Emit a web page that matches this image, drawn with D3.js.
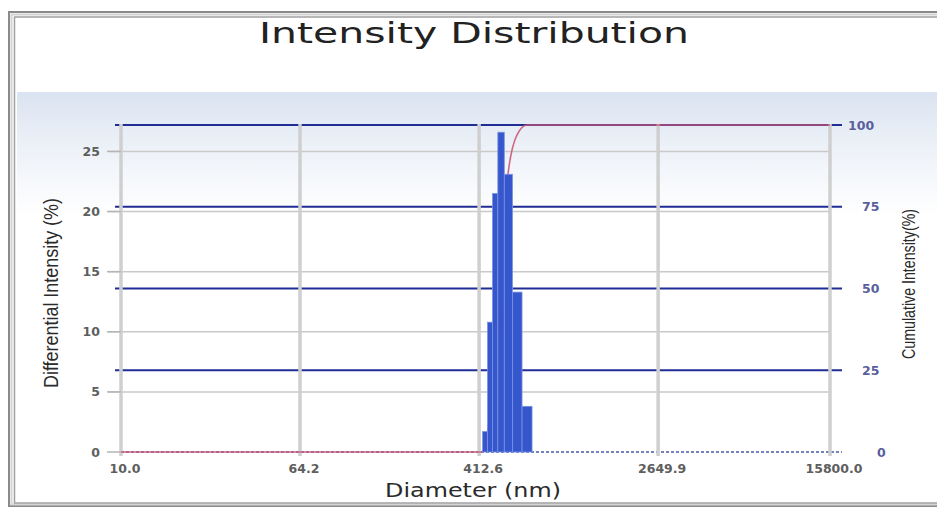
<!DOCTYPE html>
<html>
<head>
<meta charset="utf-8">
<script src="https://cdn.jsdelivr.net/npm/d3@7"></script>
<style>
  html, body { margin: 0; padding: 0; background: #fff; }
  svg { display: block; }
</style>
</head>
<body>
<svg id="chart" width="937" height="508"></svg>
<script>
// ---- data ----
const diameters = [439, 462, 487, 516, 557, 612, 679];          // nm, bin centres
const intensity = [1.7, 10.8, 21.5, 26.6, 23.1, 13.3, 3.8];      // differential %
const cumDiameters = [10, 420, 439, 462, 487, 516, 557, 612, 679, 15800];
const cumulative = [0, 0, 1.7, 12.5, 26, 60, 85, 97, 100, 100];  // cumulative %
const xTicks = [10.0, 64.2, 412.6, 2649.9, 15800.0];
const leftTicks = [0, 5, 10, 15, 20, 25];
const rightTicks = [0, 25, 50, 75, 100];

const svg = d3.select("#chart");
const W = 937, H = 508;

// frame + background
const defs = svg.append("defs");
const grad = defs.append("linearGradient").attr("id", "bg").attr("x1", 0).attr("y1", 0).attr("x2", 0).attr("y2", 1);
grad.append("stop").attr("offset", "0%").attr("stop-color", "#dae3f1");
grad.append("stop").attr("offset", "12%").attr("stop-color", "#ebf0f7");
grad.append("stop").attr("offset", "30%").attr("stop-color", "#ffffff");
svg.append("rect").attr("x", 17).attr("y", 92).attr("width", W - 17).attr("height", 411).attr("fill", "url(#bg)");

svg.append("rect").attr("x", 9).attr("y", 12).attr("width", W + 20).attr("height", 494)
  .attr("fill", "none").attr("stroke", "#8a8a8a").attr("stroke-width", 2);
svg.append("rect").attr("x", 11.5).attr("y", 14.5).attr("width", W + 20).attr("height", 490)
  .attr("fill", "none").attr("stroke", "#d4d4d4").attr("stroke-width", 2);
svg.append("rect").attr("x", 14.5).attr("y", 17).attr("width", W + 20).attr("height", 486)
  .attr("fill", "none").attr("stroke", "#a0a0a0").attr("stroke-width", 1.5);

// scales
const x = d3.scaleLog().domain([10, 15800]).range([121, 830]);
const yL = d3.scaleLinear().domain([0, 27.2]).range([452, 125]);
const yR = d3.scaleLinear().domain([0, 100]).range([452, 125]);

// title
svg.append("text").attr("x", 474).attr("y", 43).attr("text-anchor", "middle")
  .attr("font-family", "DejaVu Sans").attr("font-size", 29).attr("fill", "#222")
  .attr("textLength", 430).attr("lengthAdjust", "spacingAndGlyphs")
  .text("Intensity Distribution");

// horizontal gray grid (left axis)
svg.append("g").selectAll("line").data(leftTicks.filter(d => d > 0)).join("line")
  .attr("x1", 108).attr("x2", 830)
  .attr("y1", d => yL(d)).attr("y2", d => yL(d))
  .attr("stroke", "#c9c9c9").attr("stroke-width", 1.5);

// blue cumulative gridlines
svg.append("g").selectAll("line").data(rightTicks.filter(d => d > 0)).join("line")
  .attr("x1", 115).attr("x2", 842)
  .attr("y1", d => yR(d)).attr("y2", d => yR(d))
  .attr("stroke", "#1f2d94").attr("stroke-width", 2.2);

// dashed zero line
svg.append("line").attr("x1", 121).attr("x2", 842).attr("y1", yR(0)).attr("y2", yR(0))
  .attr("stroke", "#4a5aa8").attr("stroke-width", 1.5).attr("stroke-dasharray", "3,2");

// vertical gray grid
svg.append("g").selectAll("line").data(xTicks).join("line")
  .attr("x1", d => x(d)).attr("x2", d => x(d))
  .attr("y1", 124).attr("y2", 456)
  .attr("stroke", "#cfcfcf").attr("stroke-width", 3.5);

// cumulative curve (drawn behind the bars)
const line = d3.line().x(d => x(d[0])).y(d => yR(d[1])).curve(d3.curveMonotoneX);
svg.append("path").datum(cumDiameters.map((d, i) => [d, cumulative[i]]))
  .attr("d", line).attr("fill", "none").attr("stroke", "#cc5575").attr("stroke-width", 1.6)
  .attr("opacity", 0.9);

// bars
const logc = diameters.map(d => Math.log10(d));
function edgeLeft(i) {
  if (i > 0) return Math.pow(10, (logc[i] + logc[i - 1]) / 2);
  return Math.pow(10, logc[0] - (logc[1] - logc[0]) / 2);
}
function edgeRight(i) {
  if (i < logc.length - 1) return Math.pow(10, (logc[i] + logc[i + 1]) / 2);
  const n = logc.length - 1;
  return Math.pow(10, logc[n] + (logc[n] - logc[n - 1]) / 2);
}
svg.append("g").selectAll("rect").data(intensity).join("rect")
  .attr("x", (d, i) => x(edgeLeft(i)))
  .attr("width", (d, i) => x(edgeRight(i)) - x(edgeLeft(i)))
  .attr("y", d => yL(d))
  .attr("height", d => yL(0) - yL(d))
  .attr("fill", "#3556cc").attr("stroke", "#7b93e2").attr("stroke-width", 0.8);

// left ticks + labels
svg.append("g").selectAll("line").data(leftTicks).join("line")
  .attr("x1", 107).attr("x2", 121).attr("y1", d => yL(d)).attr("y2", d => yL(d))
  .attr("stroke", "#b5b5b5").attr("stroke-width", 1.5);
svg.append("g").selectAll("text").data(leftTicks).join("text")
  .attr("x", 100).attr("y", d => yL(d) + 4.5).attr("text-anchor", "end")
  .attr("font-family", "DejaVu Sans").attr("font-weight", "bold").attr("font-size", 12.5)
  .attr("fill", "#5e5e5e").text(d => d);

// right labels
svg.append("g").selectAll("text").data(rightTicks).join("text")
  .attr("x", d => d === 100 ? 848 : (d === 0 ? 877 : 862)).attr("y", d => yR(d) + 4.5)
  .attr("font-family", "DejaVu Sans").attr("font-weight", "bold").attr("font-size", 12.5)
  .attr("fill", "#5a5f9c").text(d => d);

// x labels
svg.append("g").selectAll("text").data(xTicks).join("text")
  .attr("x", d => x(d) + 4).attr("y", 473).attr("text-anchor", "middle")
  .attr("font-family", "DejaVu Sans").attr("font-weight", "bold").attr("font-size", 12.5)
  .attr("fill", "#5e5e5e").text(d => d.toFixed(1));

// axis titles
svg.append("text").attr("x", 473).attr("y", 497).attr("text-anchor", "middle")
  .attr("font-family", "DejaVu Sans").attr("font-size", 19).attr("fill", "#2a2a2a")
  .attr("textLength", 176).attr("lengthAdjust", "spacingAndGlyphs")
  .text("Diameter (nm)");

svg.append("text").attr("transform", "translate(58,293) rotate(-90)").attr("text-anchor", "middle")
  .attr("font-family", "Liberation Sans").attr("font-size", 21).attr("fill", "#2a2a2a")
  .attr("textLength", 190).attr("lengthAdjust", "spacingAndGlyphs")
  .text("Differential Intensity (%)");

svg.append("text").attr("transform", "translate(915,284) rotate(-90)").attr("text-anchor", "middle")
  .attr("font-family", "Liberation Sans").attr("font-size", 19).attr("fill", "#2a2a2a")
  .attr("textLength", 150).attr("lengthAdjust", "spacingAndGlyphs")
  .text("Cumulative Intensity(%)");
</script>
</body>
</html>
